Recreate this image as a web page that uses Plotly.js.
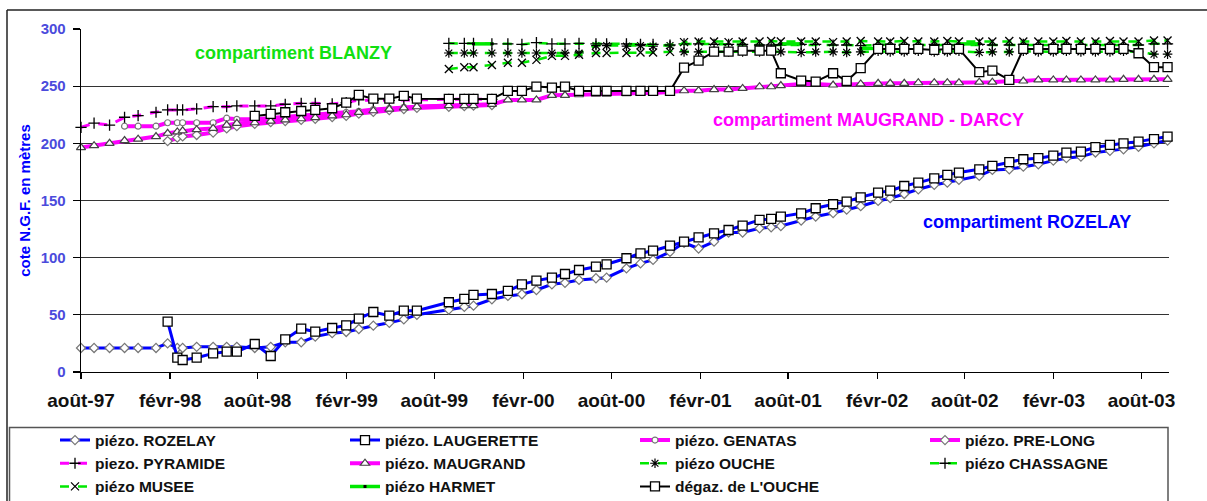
<!DOCTYPE html>
<html><head><meta charset="utf-8">
<script src="https://cdn.plot.ly/plotly-3.0.1.min.js"></script>
<style>html,body{margin:0;padding:0;background:#fff}#chart{width:1207px;height:501px}</style>
</head><body><div id="chart"></div>
<script>
// Measurement dates (shared by all piezometers)
const dates = ['1997-08-01','1997-08-28','1997-09-29','1997-10-30','1997-11-27','1998-01-03','1998-01-27','1998-02-16','1998-02-27','1998-03-28',
 '1998-05-01','1998-05-29','1998-06-19','1998-07-26','1998-08-28','1998-09-27','1998-10-30','1998-11-28','1999-01-02','1999-01-31',
 '1999-02-26','1999-03-28','1999-04-30','1999-05-30','1999-06-26','1999-08-31','1999-10-02','1999-10-21','1999-11-28','1999-12-31',
 '2000-01-29','2000-02-28','2000-03-31','2000-04-27','2000-05-26','2000-06-30','2000-07-22','2000-09-01','2000-09-30','2000-10-26',
 '2000-11-30','2000-12-29','2001-01-28','2001-03-01','2001-03-31','2001-04-29','2001-06-03','2001-06-27','2001-07-17','2001-08-28',
 '2001-09-27','2001-11-02','2001-11-30','2001-12-29','2002-02-03','2002-02-28','2002-03-29','2002-04-27','2002-05-30','2002-06-26',
 '2002-07-20','2002-08-31','2002-09-27','2002-11-01','2002-11-30','2002-12-31','2003-01-31','2003-02-27','2003-03-29','2003-04-28',
 '2003-05-28','2003-06-25','2003-07-26','2003-08-27','2003-09-24'];

// compartiment ROZELAY
const rozelay = [21,21,21,21,21,21,25,21,21,22,22,22,22,21,22,26,26,31,34,35,37.6,40.5,43,46,50,
 54.5,57,58,63.6,66.5,68,71.7,76.7,78,80.5,82,82.5,90.7,95,98,105,113,108,114,122,
 122,125.7,126.6,127.7,132.5,136,139,142,145,149.6,152,155.7,159.8,163.6,165.6,168,171.5,176.7,177.3,179.6,
 181.7,184.9,187,188.4,192,193.4,194.8,197,200,202.4];
const laugeretteStart = 6;
const laugerette = [44,12.5,10.5,12.5,16.3,17.8,17.8,24.5,14,28.6,37.9,35.3,38.5,40.8,46.7,52.5,49.3,53.6,53.6,
 61,63.9,67.4,68.2,70.9,76.7,79.9,82.5,85.7,89.2,92.1,94.2,99.5,103.8,106.1,110.5,114,117.8,121.3,124.2,
 128,133,133.9,135.9,138.8,143.2,146.7,149,152.8,156.9,158.6,162.7,165.6,169.4,172.4,174.4,177.3,180.2,183.5,186.1,
 187,189.2,191.9,192.7,196.6,198.6,200,201.5,203.6,205.9];

// compartiment MAUGRAND - DARCY
const genatasStart = 3;
const genatas = [215,215,215,218,218,218,218,218,222,221,221,222,223,224,225,226,227,228,229.5,230.5,231.5,232,233,233.5,234,234];
const prelongStart = 6;
const prelong = [202,205,206,207.3,209.4,213,215,217,218.5,219.5,220.5,221.5,223,224,226,227.5,229,230,231,232,232.5,233,233.5];
const pyramideStart = 0;
const pyramide = [214,217.6,216,222.8,224.3,227.2,229.2,229.2,229.2,230.1,232.1,232.1,232.7,232.7,232.7,234.2,235,235,234.5,235.6,
 238,237.5,237.5,238,238,238.5,238.5,238.5,238.5];
const maugrandStart = 0;
const maugrand = [196.3,198,200,202.4,203.6,205.9,208.8,210,211,212,213,216,217.5,218,219.5,220.5,221.5,222.5,224,225,227,228.5,230,231,232,
 233,233,233,234,238,238,238,242,242,242.5,243,243,243.5,244,244,245,246,246,247,247,248,249.5,249.5,250.5,252,
 252,251,251.5,252,252.5,252.5,252.5,253,253,253,253,253.5,253.5,254.5,254.5,255.5,255.5,255.5,255.5,255.5,255.5,256,256,256,256];

// compartiment BLANZY
const blanzyStart = 25;
const ouche = [279,279,279,279,279,279,279,279,279,279,285.5,285.5,285,285.5,285,285.5,280,280,280.5,280,
 280,280,280.5,280,279.5,280,280,279.5,280,280.5,280,280,280.5,280,280,280.5,279.5,280,280,280.5,
 280,280,280.5,280,280,280,280.5,280,278,278];
const chassagne = [287.5,287.5,287.5,287,287,286.5,288,287,287,287.5,287,287,287,286.5,286.5,286,287,287,286.5,286.5,
 286.5,286,286,286,286.5,286.5,286,286,285.5,286,286.5,286,286,286.5,286,286,286.5,286,286,286.5,
 286,286,286.5,286,286,286.5,286,286,287,287];
const musee = [265,266.5,266.5,268.5,270.5,270.5,273,276.5,276.5,277.5,279,279,279,279.5,279.5,280,288.5,289,289,288.5,
 289,289,289.5,289,289,289,288.5,289,289.5,289,289,289.5,289,289,289.5,289,289,289,289.5,289,
 289,289,289.5,289,289,289.5,289,289,290,290];
const harmet = [null,null,287,287,null,null,null,null,null,null,null,null,null,null,null,null,null,null,null,null,
 null,null,null,287,287,null,null,null,283,283,null,null,null,null,null,287,287,null,null,null,
 null,null,null,null,null,null,null,null,null,null];
const degazStart = 13;
const degaz = [224,225.7,227.2,228.3,229.2,230.7,235.6,242.3,239.1,239.1,241.5,239.1,
 238.8,238.8,238.8,238.8,245.8,245.8,249.6,248.8,249.6,245.8,245.8,245.8,245.8,245.8,245.8,245.8,266.2,272.4,280.2,280.2,281,281,281,261.3,254.9,
 254,261.3,254.6,265.7,282.6,282.6,282.6,282.6,281.7,282.6,282.6,262.2,263.6,255.5,282.6,282.6,282.6,282.6,282.6,282.6,282.6,282.6,278.8,266.6,266.6];

// axis ticks
const tickDates = ['1997-08-01','1998-02-01','1998-08-01','1999-02-01','1999-08-01','2000-02-01','2000-08-01',
 '2001-02-01','2001-08-01','2002-02-01','2002-08-01','2003-02-01','2003-08-01'];
const tickLabels = ['août-97','févr-98','août-98','févr-99','août-99','févr-00','août-00',
 'févr-01','août-01','févr-02','août-02','févr-03','août-03'];
const yTicks = [0,50,100,150,200,250,300];

const BLUE = '#0000ff', MAG = '#ff00ff', GREEN = '#00e800';
const FONT = 'Liberation Sans, Arial, sans-serif';
const sl = (start, arr) => dates.slice(start, start + arr.length);

function tr(name, x, y, line, marker) {
  return {type:'scatter', mode:'lines+markers', name, x, y, line, marker, cliponaxis:false, connectgaps:false};
}
const traces = [
  tr('piézo. ROZELAY', dates, rozelay, {color:BLUE, width:3},
     {symbol:'diamond', size:7, color:'#fff', line:{color:'#777', width:1.2}}),
  tr('piézo. LAUGERETTE', sl(laugeretteStart, laugerette), laugerette, {color:BLUE, width:3},
     {symbol:'square', size:9, color:'#fff', line:{color:'#000', width:1.3}}),
  tr('piézo. GENATAS', sl(genatasStart, genatas), genatas, {color:MAG, width:4},
     {symbol:'circle', size:6, color:'#fff', line:{color:'#777', width:1.2}}),
  tr('piézo. PRE-LONG', sl(prelongStart, prelong), prelong, {color:MAG, width:4},
     {symbol:'diamond', size:7, color:'#fff', line:{color:'#777', width:1.2}}),
  tr('piezo. PYRAMIDE', sl(pyramideStart, pyramide), pyramide, {color:MAG, width:3, dash:'dash'},
     {symbol:'cross-thin-open', size:8, color:'#000', line:{color:'#000', width:1.3}}),
  tr('piézo. MAUGRAND', sl(maugrandStart, maugrand), maugrand, {color:MAG, width:4},
     {symbol:'triangle-up', size:8, color:'#fff', line:{color:'#444', width:1.2}}),
  tr('piézo OUCHE', sl(blanzyStart, ouche), ouche, {color:GREEN, width:2.5, dash:'dash'},
     {symbol:'asterisk-open', size:8, color:'#000', line:{color:'#000', width:1.2}}),
  tr('piézo CHASSAGNE', sl(blanzyStart, chassagne), chassagne, {color:GREEN, width:2.5, dash:'dash'},
     {symbol:'cross-thin-open', size:8, color:'#000', line:{color:'#000', width:1.3}}),
  tr('piézo MUSEE', sl(blanzyStart, musee), musee, {color:GREEN, width:2.5, dash:'dash'},
     {symbol:'x-thin-open', size:8, color:'#000', line:{color:'#000', width:1.3}}),
  tr('piézo HARMET', sl(blanzyStart, harmet), harmet, {color:GREEN, width:3.5},
     {symbol:'square', size:3, color:'#000', line:{width:0}}),
  tr("dégaz. de L'OUCHE", sl(degazStart, degaz), degaz, {color:'#000', width:2},
     {symbol:'square', size:9, color:'#fff', line:{color:'#000', width:1.3}})
];

// paper coords helpers for plot area 81..1169 x 29..372 px
const px = v => (v - 81) / 1088, py = v => (372 - v) / 343;

const layout = {
  width:1207, height:501,
  margin:{l:81, r:38, t:29, b:129, pad:0, autoexpand:false},
  paper_bgcolor:'#fff', plot_bgcolor:'#fff',
  font:{family:FONT, color:'#000'},
  showlegend:true,
  xaxis:{type:'date', range:['1997-08-01','2003-09-27'], tickmode:'array', tickvals:tickDates, ticktext:tickLabels,
    ticks:'outside', ticklen:6, tickwidth:1.3, tickcolor:'#000', showline:true, linecolor:'#000', linewidth:1.3,
    showgrid:false, zeroline:false, ticklabelstandoff:5,
    tickfont:{family:FONT, size:19, color:'#111', weight:700}},
  xaxis2:{type:'date', overlaying:'x', anchor:'y', side:'bottom', range:['1997-08-01','2003-09-27'],
    tickmode:'array', tickvals:tickDates, ticks:'inside', ticklen:5, tickwidth:1.3, tickcolor:'#000',
    showticklabels:false, showgrid:false, zeroline:false, showline:false},
  yaxis:{range:[0,300], tickmode:'array', tickvals:yTicks, ticks:'outside', ticklen:7, tickwidth:1.3, tickcolor:'#000',
    showline:true, linecolor:'#000', linewidth:1.3, showgrid:true, gridcolor:'#333', gridwidth:1.2, zeroline:false,
    ticklabelstandoff:4, tickfont:{family:FONT, size:15, color:'#4b4bdc', weight:700},
    title:{text:'cote N.G.F. en mètres', standoff:6, font:{family:FONT, size:15, color:'#0000ff', weight:700}}},
  legend:{orientation:'h', x:px(55), y:py(423.5), xanchor:'left', yanchor:'top', entrywidth:245, entrywidthmode:'pixels',
    font:{family:FONT, size:15.5, color:'#111', weight:700}, bgcolor:'rgba(0,0,0,0)', borderwidth:0, traceorder:'normal'},
  annotations:[
    {text:'compartiment BLANZY', xref:'paper', yref:'paper', x:px(293), y:py(53), xanchor:'center', yanchor:'middle', showarrow:false,
     font:{family:FONT, size:18, color:'#11e011', weight:700}},
    {text:'compartiment MAUGRAND - DARCY', xref:'paper', yref:'paper', x:px(868), y:py(120), xanchor:'center', yanchor:'middle', showarrow:false,
     font:{family:FONT, size:18, color:MAG, weight:700}},
    {text:'compartiment ROZELAY', xref:'paper', yref:'paper', x:px(1027), y:py(222), xanchor:'center', yanchor:'middle', showarrow:false,
     font:{family:FONT, size:18, color:BLUE, weight:700}}
  ],
  shapes:[
    {type:'line', xref:'paper', yref:'paper', x0:px(7), x1:px(7), y0:py(515), y1:py(10), line:{color:'#222', width:1.5}},
    {type:'line', xref:'paper', yref:'paper', x0:px(7), x1:px(1215), y0:py(10), y1:py(10), line:{color:'#222', width:1.5}},
    {type:'rect', xref:'paper', yref:'paper', x0:px(9.5), x1:px(1168), y0:py(515), y1:py(427.5), line:{color:'#555', width:1.5}}
  ]
};

Plotly.newPlot('chart', traces, layout, {displayModeBar:false, staticPlot:true});
</script>
</body></html>
